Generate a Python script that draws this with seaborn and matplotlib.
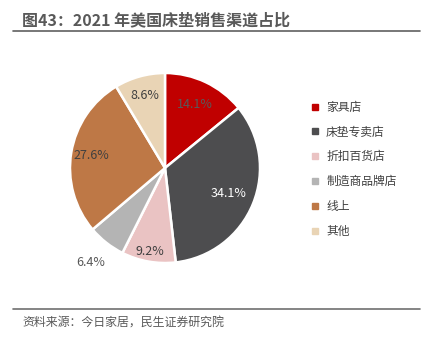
import matplotlib
matplotlib.use("Agg")
import matplotlib.pyplot as plt
from matplotlib.lines import Line2D
import seaborn as sns
import numpy as np

categories = ["家具店", "床垫专卖店", "折扣百货店", "制造商品牌店", "线上", "其他"]
values = [14.1, 34.1, 9.2, 6.4, 27.6, 8.6]
colors = ["#C00000", "#4D4D4F", "#EAC3C3", "#B4B4B4", "#BE7846", "#E9D4B5"]
label_colors = ["#595959", "#FFFFFF", "#404040", "#595959", "#404040", "#404040"]
label_radius = [0.74, 0.72, 0.89, 1.27, 0.79, 0.79]
title = "图43：2021 年美国床垫销售渠道占比"
source = "资料来源：今日家居，民生证券研究院"

sns.set_theme(style="white")
plt.rcParams["font.family"] = ["Noto Sans CJK SC", "DejaVu Sans"]

W, H = 437, 344
fig = plt.figure(figsize=(W / 100, H / 100), dpi=100)

cx, cy, r = 165, 168, 95
half = 100
ax = fig.add_axes([(cx - half) / W, (H - cy - half) / H, 2 * half / W, 2 * half / H])
palette = sns.color_palette(colors)
wedges, _ = ax.pie(values, colors=palette, startangle=90, counterclock=False,
                   radius=1.0, wedgeprops=dict(edgecolor="white", linewidth=1.8))
lim = half / r
ax.set_xlim(-lim, lim)
ax.set_ylim(-lim, lim)
ax.set_aspect("equal")
ax.axis("off")

total = sum(values)
cum = 0.0
for v, rc, tc in zip(values, label_radius, label_colors):
    mid = np.deg2rad(90 - (cum + v / 2) / total * 360)
    cum += v
    ax.text(rc * np.cos(mid), rc * np.sin(mid), f"{v:.1f}%", ha="center", va="center",
            fontsize=9, color=tc)

# legend
handles = [Line2D([0], [0], marker="s", linestyle="none", markersize=4.5,
                  markerfacecolor=c, markeredgecolor=c) for c in colors]
leg = fig.legend(handles, categories, loc="upper left",
                 bbox_to_anchor=(306 / W, 1 - 96 / H), frameon=False,
                 fontsize=8.5, handlelength=0.8, handletextpad=0.5,
                 labelspacing=1.0, borderaxespad=0)
for t in leg.get_texts():
    t.set_color("#404040")

# title and rules
fig.text(22 / W, 1 - 20 / H, title, fontsize=11.5, fontweight="bold", color="#595959",
         ha="left", va="center")
fig.add_artist(Line2D([13 / W, 420 / W], [1 - 31 / H, 1 - 31 / H], color="#606060", linewidth=1.2))
fig.add_artist(Line2D([13 / W, 420 / W], [1 - 309 / H, 1 - 309 / H], color="#707070", linewidth=1.2))
fig.text(22 / W, 1 - 322 / H, source, fontsize=8.6, color="#595959", ha="left", va="center")

fig.savefig("out.png", dpi=100)
